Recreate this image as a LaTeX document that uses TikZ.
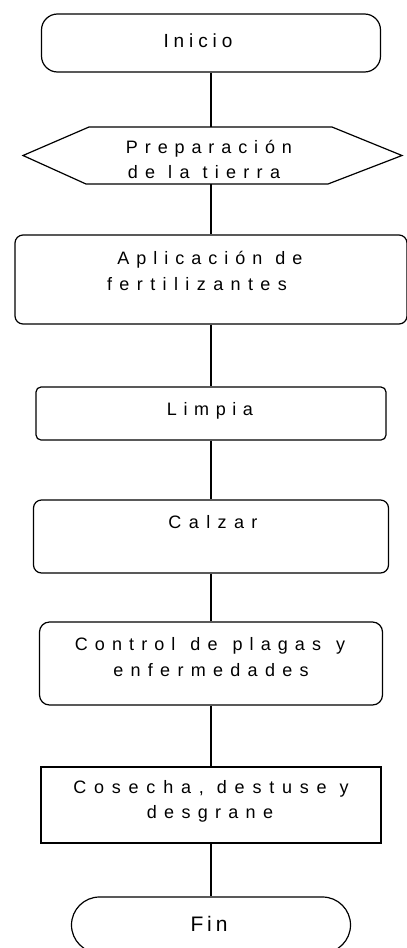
\documentclass[tikz,border=0pt]{standalone}
\usepackage{fontspec}
\setmainfont{Liberation Sans}
\makeatletter
\newcommand\lw[2]{\def\lw@k{#1}\def\lw@sep{}\@tfor\lw@c:=#2\do{\lw@sep\lw@c\def\lw@sep{\kern\lw@k pt}}}
\newcommand\ph[3]{\def\ph@k{#1}\def\ph@w{#2}\ph@words#3 \@nil}
\def\ph@words#1 #2\@nil{\lw{\ph@k}{#1}\if\relax\detokenize{#2}\relax\else\kern\ph@w pt\ph@words#2\@nil\fi}
\makeatother
\begin{document}
\begin{tikzpicture}[x=1pt,y=-1pt,
  box/.style={draw=black,line width=1.2pt,minimum width=#1,inner sep=0pt},
  lbl/.style={font=\fontsize{18}{22}\selectfont,anchor=base,inner sep=0pt},
  conn/.style={draw=black,line width=1.3pt}]
\useasboundingbox (0,0) rectangle (407,948);
\clip (0,0) rectangle (407,948);
% shapes
\node[box=339pt,minimum height=58pt,rounded corners=16pt] (ini) at (211,43) {};
\node[inner sep=0pt,minimum width=379pt,minimum height=57pt] (prep) at (211,155.5) {};
\draw[line width=1.2pt] (23,155.5) -- (89,127) -- (332,127) -- (402,155.5) -- (328,184) -- (86,184) -- cycle;
\node[box=392pt,minimum height=89pt,rounded corners=8pt] (apl) at (211,279.5) {};
\node[box=350pt,minimum height=53pt,rounded corners=5pt] (limp) at (211,413.5) {};
\node[box=355pt,minimum height=73pt,rounded corners=8pt] (calz) at (211,536.5) {};
\node[box=343pt,minimum height=83pt,rounded corners=10pt] (ctrl) at (211,663.5) {};
\node[box=340pt,minimum height=76pt] (cos) at (211,805) {};
\node[box=279pt,minimum height=56pt,rounded corners=28pt] (fin) at (211,925) {};
% texts
\node[lbl,font=\fontsize{19}{22}\selectfont] (tini) at (198,47) {\ph{4.9}{13}{Inicio}};
\node[lbl] (tprepa) at (209,153) {\ph{6.9}{13}{Preparación}};
\node[lbl] (tprepb) at (204,178) {\ph{7.3}{13}{de la tierra}};
\node[lbl] (tapla) at (210,264) {\ph{7.0}{13}{Aplicación de}};
\node[lbl] (taplb) at (197,290) {\ph{7.4}{13}{fertilizantes}};
\node[lbl] (tlimp) at (210,415) {\ph{6.6}{13}{Limpia}};
\node[lbl] (tcalz) at (213,528) {\ph{7.4}{13}{Calzar}};
\node[lbl] (tctrla) at (210,650) {\ph{7.1}{15}{Control de plagas y}};
\node[lbl] (tctrlb) at (211,676) {\ph{7.3}{13}{enfermedades}};
\node[lbl] (tcosa) at (211,793) {\ph{7.8}{13}{Cosecha, destuse y}};
\node[lbl] (tcosb) at (210,818) {\ph{7.3}{13}{desgrane}};
\node[lbl,font=\fontsize{21}{22}\selectfont] (tfin) at (209,931) {\ph{3.9}{13}{Fin}};
% connectors
\draw[conn] (ini.south) -- (prep.north);
\draw[conn] (prep.south) -- (apl.north);
\draw[conn] (apl.south) -- (limp.north);
\draw[conn] (limp.south) -- (calz.north);
\draw[conn] (calz.south) -- (ctrl.north);
\draw[conn] (ctrl.south) -- (cos.north);
\draw[conn] (cos.south) -- (fin.north);
\end{tikzpicture}
\end{document}
